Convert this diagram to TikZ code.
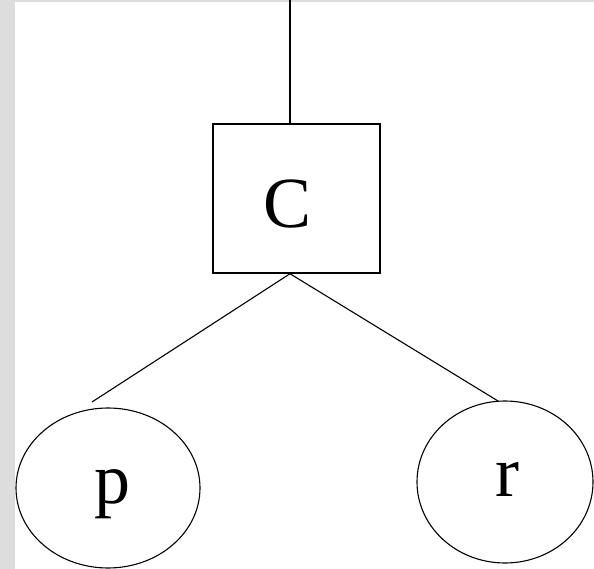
\documentclass[tikz,border=0pt]{standalone}
\usepackage{fontspec}
\setmainfont{Liberation Serif}
\usetikzlibrary{shapes.geometric}
\definecolor{frame}{HTML}{DDDDDD}
\begin{document}
\begin{tikzpicture}[x=1pt,y=-1pt,
  boxnode/.style={draw,line width=1.5pt,rectangle,inner sep=0pt,
    minimum width=167pt,minimum height=149pt},
  leaf/.style={draw,line width=1.1pt,ellipse,inner sep=0pt},
  lbl/.style={inner sep=0pt,font=\fontsize{72}{80}\selectfont},
  edge/.style={line width=1.1pt}]
  % page with grey frame on the left and top
  \useasboundingbox (0,0) rectangle (594,569);
  \fill[frame] (0,0) rectangle (594,569);
  \fill[white] (15,2) rectangle (594,569);
  % nodes
  \node[boxnode] (box) at (296.5,198.5) {};
  \node[lbl] (c) at (288,204) {C};
  \node[leaf,minimum width=184pt,minimum height=160pt] (p) at (108,488) {};
  \node[lbl] (plbl) at (112,494) {p};
  \node[leaf,minimum width=176pt,minimum height=162pt] (r) at (505,482) {};
  \node[lbl] (rlbl) at (507,480) {r};
  % connector ends
  \coordinate (top) at (290,0);
  \coordinate (pe) at (92,402);
  \coordinate (re) at (498,401);
  % connectors
  \draw[edge] (top) -- (top |- box.north);
  \draw[edge] (top |- box.south) -- (pe);
  \draw[edge] (top |- box.south) -- (re);
\end{tikzpicture}
\end{document}
